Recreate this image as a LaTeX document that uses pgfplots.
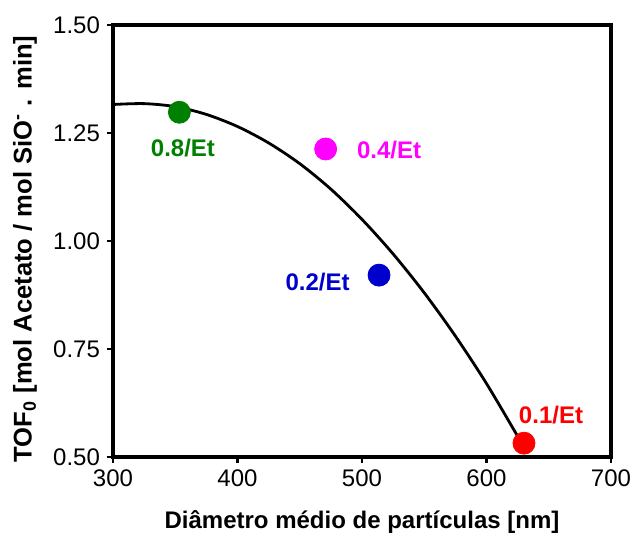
\documentclass[border=0pt]{standalone}
\usepackage{fontspec}
\setmainfont{Liberation Sans}
\usepackage{pgfplots}
\pgfplotsset{compat=1.18}
\definecolor{cgreen}{RGB}{0,128,0}
\definecolor{cmag}{RGB}{255,0,255}
\definecolor{cblue}{RGB}{0,0,204}
\definecolor{cred}{RGB}{255,0,0}
\begin{document}
\begin{tikzpicture}
\begin{axis}[
  scale only axis,
  width=249pt, height=216pt,
  xmin=300, xmax=700, ymin=0.5, ymax=1.5,
  xtick={300,400,...,700},
  ytick={0.5,0.75,1,1.25,1.5},
  yticklabel style={/pgf/number format/fixed, /pgf/number format/fixed zerofill, /pgf/number format/precision=2},
  /pgf/number format/assume math mode=true,
  tick align=outside,
  tick pos=left,
  major tick length=3pt,
  axis line style={line width=1.6pt},
  every tick/.style={black, line width=1.4pt},
  tick label style={font=\fontsize{12}{14}\selectfont},
  xlabel={Diâmetro médio de partículas [nm]},
  ylabel={TOF\textsubscript{0} [mol Acetato / mol SiO\textsuperscript{-} . min]},
  every axis x label/.style={at={(axis description cs:0.5,0)}, yshift=-32.5pt, anchor=center, font=\bfseries\fontsize{12}{14}\selectfont},
  every axis y label/.style={at={(axis description cs:0,0.5)}, xshift=-44pt, yshift=-4pt, anchor=center, rotate=90, font=\bfseries\fontsize{12.8}{14}\selectfont},
  clip=false,
]
\addplot[black, line width=1.4pt, smooth, no marks] coordinates {
  (300,1.316) (325,1.318) (350,1.311) (375,1.293) (400,1.265) (425,1.227)
  (450,1.179) (475,1.120) (500,1.050) (525,0.970) (550,0.880) (575,0.780)
  (600,0.670) (625,0.548)
};
\addplot[only marks, mark=*, mark size=5.5pt, color=cgreen] coordinates {(353.3,1.298)};
\addplot[only marks, mark=*, mark size=5.5pt, color=cmag] coordinates {(470.8,1.213)};
\addplot[only marks, mark=*, mark size=5.5pt, color=cblue] coordinates {(513.7,0.921)};
\addplot[only marks, mark=*, mark size=5.5pt, color=cred] coordinates {(630.1,0.532)};
\node[text=cgreen, font=\bfseries\fontsize{12}{14}\selectfont] at (axis cs:356.2,1.215) {0.8/Et};
\node[text=cmag, font=\bfseries\fontsize{12}{14}\selectfont] at (axis cs:521.7,1.211) {0.4/Et};
\node[text=cblue, font=\bfseries\fontsize{12}{14}\selectfont] at (axis cs:464.3,0.906) {0.2/Et};
\node[text=cred, font=\bfseries\fontsize{12}{14}\selectfont] at (axis cs:651.8,0.597) {0.1/Et};
\end{axis}
\pgfresetboundingbox
\path ([shift={(-56.5pt,-39pt)}]current axis.south west) rectangle ([shift={(11.5pt,12.5pt)}]current axis.north east);
\end{tikzpicture}
\end{document}
